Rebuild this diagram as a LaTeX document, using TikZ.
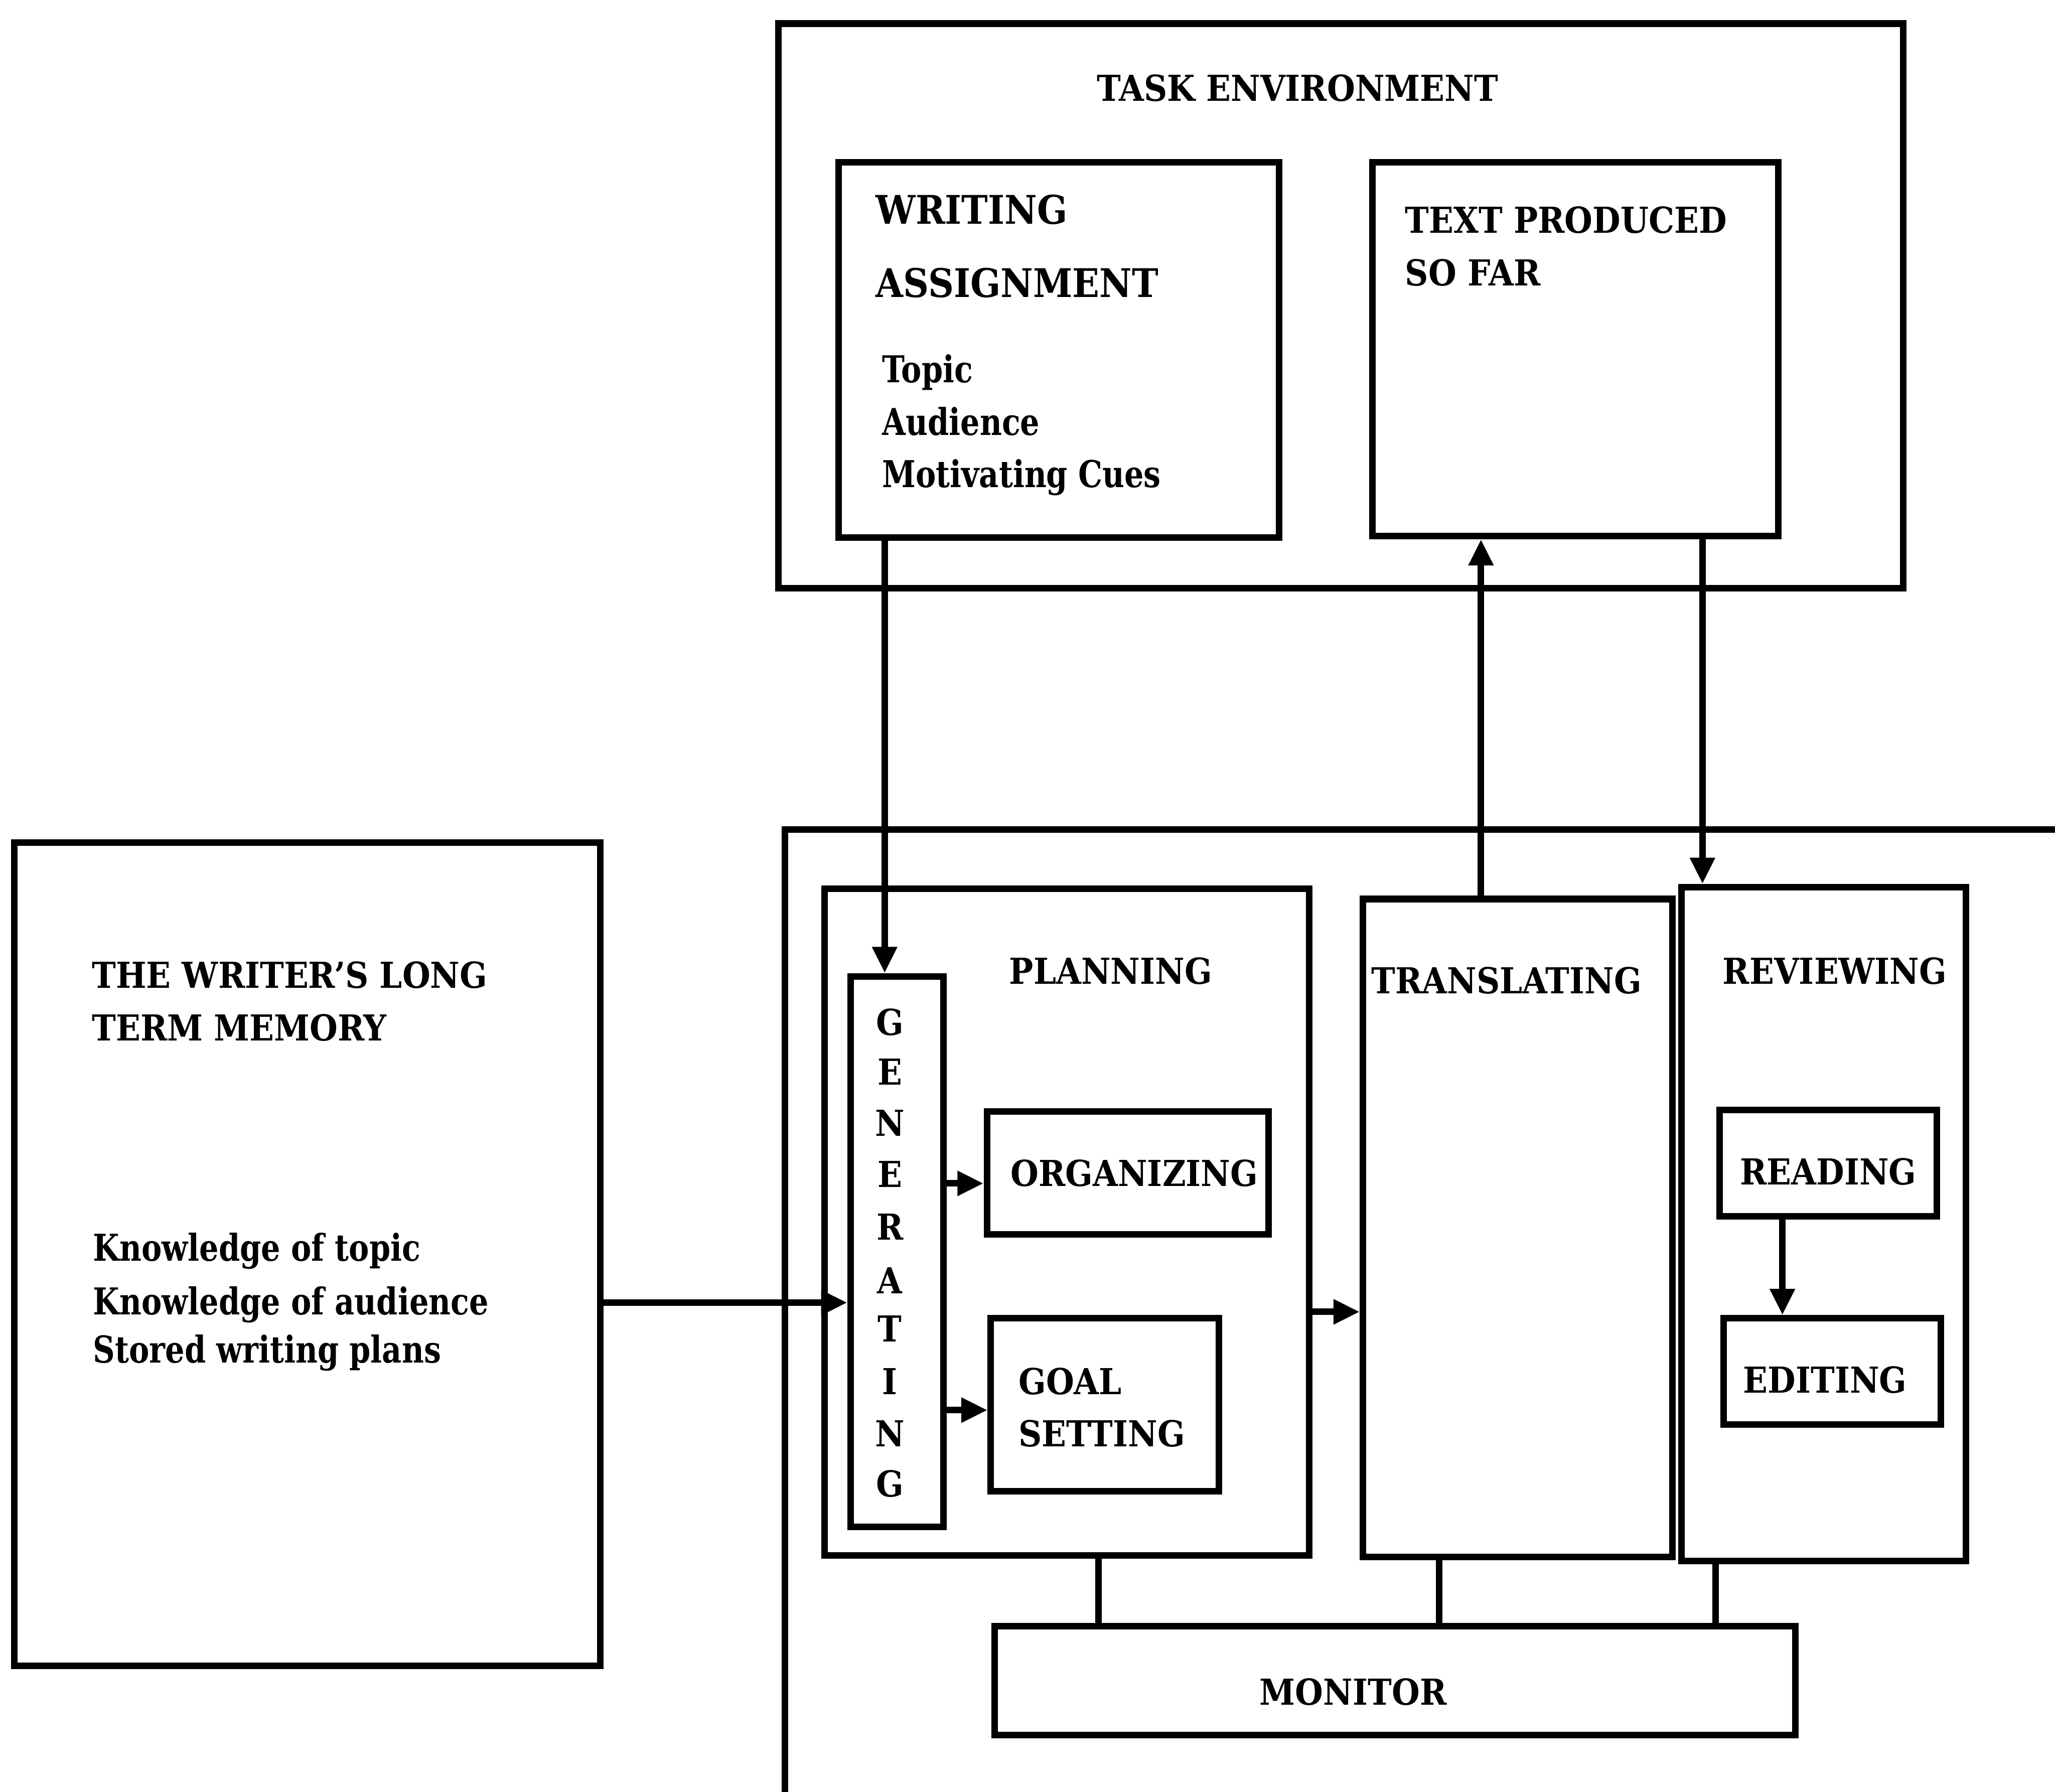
\documentclass[tikz,border=0pt]{standalone}
\usepackage{fontspec}
\usepackage{graphicx}
\usetikzlibrary{arrows.meta}

\newfontfamily\slabfont{DejaVu Serif}
% heavy slab lettering set at 10pt and enlarged, slightly condensed
\newcommand{\cond}[2][2.9]{\scalebox{\fpeval{0.941*0.9*#1}}[\fpeval{0.941*#1}]{\fontsize{10}{10}\slabfont\bfseries #2}}
% same, a little narrower for mixed-case lines
\newcommand{\lcond}[2][3.0]{\scalebox{\fpeval{0.941*0.82*#1}}[\fpeval{0.941*#1}]{\fontsize{10}{10}\slabfont\bfseries #2}}

\begin{document}
\begin{tikzpicture}[x=1pt,y=-1pt,
  box/.style={draw=black, line width=5pt, inner sep=0pt, fill=none},
  lbl/.style={inner sep=0pt},
  conn/.style={line width=5pt, draw=black},
  arr/.style={conn, -{Triangle[length=20pt,width=18pt]}},
  frame/.style={line width=5pt, draw=black}
]
\fill[white] (0,0) rectangle (1568,1367.4);
\useasboundingbox (0,0) rectangle (1568,1367.4);

% ---- task environment ----
\node[box, minimum width=858pt, minimum height=431pt] (te) at (1023,233.5) {};
\node[lbl, anchor=base] (tetitle) at (990,77) {\cond{TASK ENVIRONMENT}};

\node[box, minimum width=336pt, minimum height=286pt] (wa) at (808,267) {};
\node[lbl, anchor=base west] (wa1) at (668,171) {\cond[3.2]{WRITING}};
\node[lbl, anchor=base west] (wa2) at (668,227) {\cond[3.2]{ASSIGNMENT}};
\node[lbl, anchor=base west] (wa3) at (673,292) {\lcond{Topic}};
\node[lbl, anchor=base west] (wa4) at (673,332) {\lcond{Audience}};
\node[lbl, anchor=base west] (wa5) at (673,372) {\lcond{Motivating Cues}};

\node[box, minimum width=310pt, minimum height=285pt] (tp) at (1202,266.5) {};
\node[lbl, anchor=base west] (tp1) at (1072,178) {\cond{TEXT PRODUCED}};
\node[lbl, anchor=base west] (tp2) at (1072,218) {\cond{SO FAR}};

% ---- long term memory ----
\node[box, minimum width=447pt, minimum height=628pt] (ltm) at (234.5,957) {};
\node[lbl, anchor=base west] (ltm1) at (70,754) {\cond{THE WRITER’S LONG}};
\node[lbl, anchor=base west] (ltm2) at (70,794) {\cond{TERM MEMORY}};
\node[lbl, anchor=base west] (ltm3) at (71,962) {\lcond{Knowledge of topic}};
\node[lbl, anchor=base west] (ltm4) at (71,1003) {\lcond{Knowledge of audience}};
\node[lbl, anchor=base west] (ltm5) at (71,1040) {\lcond{Stored writing plans}};

% ---- writing processes (open frame) ----
\draw[frame] (599,1380) -- (599,633) -- (1580,633);

\node[box, minimum width=370pt, minimum height=509pt] (plan) at (814,932.5) {};
\node[lbl, anchor=base] (plant) at (847.5,751) {\cond{PLANNING}};

\node[box, minimum width=71pt, minimum height=420pt] (gen) at (684.5,955) {};
\foreach \ch/\yy [count=\i] in {G/780,E/818,N/857,E/896,R/936,A/977,T/1014,I/1054,N/1094,G/1132}
  \node[lbl] (genl\i) at (679,\yy) {\cond{\ch}};

\node[box, minimum width=215pt, minimum height=94pt] (org) at (860.5,895) {};
\node[lbl, anchor=base] (orgt) at (865.5,905) {\cond{ORGANIZING}};

\node[box, minimum width=174pt, minimum height=132pt] (goal) at (843,1072) {};
\node[lbl, anchor=base west] (goal1) at (777,1064) {\cond{GOAL}};
\node[lbl, anchor=base west] (goal2) at (777,1104) {\cond{SETTING}};

\node[box, minimum width=236pt, minimum height=502pt] (trans) at (1158,937) {};
\node[lbl, anchor=base] (transt) at (1149.5,758) {\cond{TRANSLATING}};

\node[box, minimum width=217pt, minimum height=514pt] (rev) at (1391.5,934) {};
\node[lbl, anchor=base] (revt) at (1400,751) {\cond{REVIEWING}};

\node[box, minimum width=166pt, minimum height=81pt] (read) at (1395,887.5) {};
\node[lbl, anchor=base] (readt) at (1395,904) {\cond{READING}};

\node[box, minimum width=166pt, minimum height=81pt] (edit) at (1398,1046.5) {};
\node[lbl, anchor=base] (editt) at (1392.5,1063) {\cond{EDITING}};

\node[box, minimum width=611pt, minimum height=83pt] (mon) at (1064.5,1282.5) {};
\node[lbl, anchor=base] (mont) at (1032.5,1301) {\cond{MONITOR}};

% ---- connectors ----
\coordinate (c1) at (675,0);
\coordinate (c2) at (1130,0);
\coordinate (c3) at (1299,0);
\coordinate (c4) at (1360,0);
\coordinate (r1) at (0,994);
\coordinate (r2) at (0,903);
\coordinate (r3) at (0,1076);
\coordinate (r4) at (0,1001);
\coordinate (m1) at (838,0);
\coordinate (m2) at (1098,0);
\coordinate (m3) at (1309,0);

\draw[arr] (c1 |- wa.south) -- (c1 |- gen.north);
\draw[arr] (c2 |- trans.north) -- (c2 |- tp.south);
\draw[arr] (c3 |- tp.south) -- (c3 |- rev.north);
\draw[arr] (r1 -| ltm.east) -- (r1 -| gen.west);
\draw[arr] (r2 -| gen.east) -- (r2 -| org.west);
\draw[arr] (r3 -| gen.east) -- (r3 -| goal.west);
\draw[arr] (r4 -| plan.east) -- (r4 -| trans.west);
\draw[arr] (c4 |- read.south) -- (c4 |- edit.north);

\draw[conn] (m1 |- plan.south) -- (m1 |- mon.north);
\draw[conn] (m2 |- trans.south) -- (m2 |- mon.north);
\draw[conn] (m3 |- rev.south) -- (m3 |- mon.north);
\end{tikzpicture}
\end{document}
